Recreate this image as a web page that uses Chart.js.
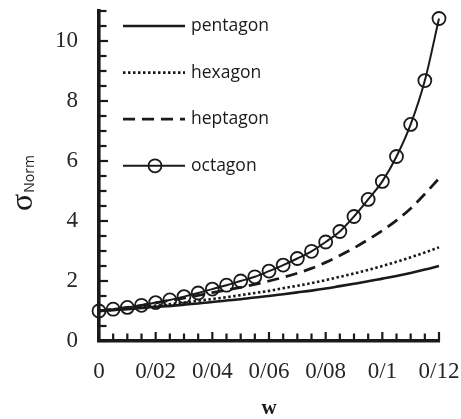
<!DOCTYPE html>
<html><head><meta charset="utf-8">
<script src="https://cdn.jsdelivr.net/npm/chart.js@4"></script>
<style>html,body{margin:0;padding:0;background:#fff}</style>
</head><body>
<canvas id="c" width="461" height="419"></canvas>
<script>
const wValues = [0,0.005,0.01,0.015,0.02,0.025,0.03,0.035,0.04,0.045,0.05,0.055,0.06,0.065,0.07,0.075,0.08,0.085,0.09,0.095,0.1,0.105,0.11,0.115,0.12];
const seriesNames = ['pentagon','hexagon','heptagon','octagon'];
const pentagon = [1.00,1.03,1.06,1.10,1.14,1.17,1.21,1.25,1.30,1.35,1.39,1.45,1.50,1.56,1.62,1.68,1.75,1.83,1.91,1.99,2.08,2.17,2.27,2.38,2.50];
const hexagon  = [1.00,1.04,1.08,1.13,1.18,1.23,1.28,1.34,1.40,1.46,1.53,1.60,1.67,1.76,1.84,1.93,2.03,2.14,2.25,2.37,2.50,2.64,2.79,2.95,3.12];
const heptagon = [1.00,1.06,1.12,1.19,1.27,1.35,1.43,1.52,1.61,1.70,1.79,1.89,2.00,2.12,2.26,2.42,2.62,2.85,3.10,3.38,3.68,4.02,4.42,4.90,5.42];
const octagon  = [1.00,1.06,1.12,1.19,1.28,1.37,1.48,1.60,1.73,1.86,2.00,2.14,2.33,2.53,2.75,2.99,3.30,3.65,4.15,4.72,5.32,6.15,7.22,8.68,10.75];
const xTickValues = [0,0.02,0.04,0.06,0.08,0.1,0.12];
const xTickLabels = ['0','0/02','0/04','0/06','0/08','0/1','0/12'];
const yTickValues = [0,2,4,6,8,10];
const yTickLabels = ['0','2','4','6','8','10'];
const xTitle = 'w';
const yTitleMain = 'σ';
const yTitleSub = 'Norm';

const INK = '#1a1a1a';
const toXY = arr => arr.map((v, i) => ({x: wValues[i], y: v}));

const styles = [
  {borderWidth: 2.6, borderDash: [], pointRadius: 0},
  {borderWidth: 2.6, borderDash: [2.5, 2.5], pointRadius: 0},
  {borderWidth: 2.8, borderDash: [12, 7], pointRadius: 0},
  {borderWidth: 2, borderDash: [], pointRadius: 6.5}
];
const seriesData = [pentagon, hexagon, heptagon, octagon];

const datasets = seriesData.map((d, i) => Object.assign({
  label: seriesNames[i],
  data: toXY(d),
  borderColor: INK,
  backgroundColor: 'rgba(0,0,0,0)',
  pointBorderColor: INK,
  pointBackgroundColor: 'rgba(0,0,0,0)',
  pointBorderWidth: 1.8,
  pointHoverRadius: 6.5,
  cubicInterpolationMode: 'monotone',
  fill: false,
  clip: false,
  order: 3 - i
}, styles[i]));

const minorTicks = {
  id: 'minorTicks',
  afterDraw(chart) {
    const {ctx, chartArea: ca, scales: {x, y}} = chart;
    ctx.save();
    ctx.strokeStyle = INK;
    ctx.lineWidth = 2.2;
    for (let i = 0; i <= 24; i++) {
      const px = x.getPixelForValue(i * 0.005);
      const len = i % 4 === 0 ? 9 : 7.5;
      ctx.beginPath(); ctx.moveTo(px, ca.bottom); ctx.lineTo(px, ca.bottom - len); ctx.stroke();
    }
    for (let i = 0; i <= 22; i++) {
      const py = y.getPixelForValue(i * 0.5);
      const len = i % 4 === 0 ? 9 : 7.5;
      ctx.beginPath(); ctx.moveTo(ca.left, py); ctx.lineTo(ca.left + len, py); ctx.stroke();
    }
    ctx.restore();
  }
};

const customLegend = {
  id: 'customLegend',
  afterDraw(chart) {
    const {ctx} = chart;
    const x0 = 123, x1 = 185, tx = 191, y0 = 26, dy = 46.6;
    ctx.save();
    chart.data.datasets.forEach((ds, i) => {
      const yy = y0 + i * dy;
      ctx.strokeStyle = INK;
      ctx.lineWidth = ds.borderWidth;
      ctx.setLineDash(ds.borderDash || []);
      ctx.beginPath(); ctx.moveTo(x0, yy); ctx.lineTo(x1, yy); ctx.stroke();
      ctx.setLineDash([]);
      if (ds.pointRadius > 0) {
        ctx.lineWidth = ds.pointBorderWidth;
        ctx.beginPath(); ctx.arc((x0 + x1) / 2 + 1, yy, ds.pointRadius, 0, Math.PI * 2); ctx.stroke();
      }
      ctx.fillStyle = INK;
      ctx.font = '17.5px "Open Sans", "Noto Sans", sans-serif';
      ctx.textAlign = 'left';
      ctx.textBaseline = 'middle';
      ctx.fillText(ds.label, tx, yy);
    });
    ctx.restore();
  }
};

const yTitlePlugin = {
  id: 'yTitle',
  afterDraw(chart) {
    const {ctx} = chart;
    ctx.save();
    ctx.translate(32, 211);
    ctx.rotate(-Math.PI / 2);
    ctx.fillStyle = INK;
    ctx.textAlign = 'left';
    ctx.textBaseline = 'alphabetic';
    ctx.font = '32px "Liberation Serif", serif';
    ctx.fillText(yTitleMain, 0, 0);
    const w = ctx.measureText(yTitleMain).width;
    ctx.font = '14px "Open Sans", "Noto Sans", sans-serif';
    ctx.fillText(yTitleSub, w + 1, 2);
    ctx.restore();
  }
};

new Chart(document.getElementById('c'), {
  type: 'line',
  data: {datasets},
  options: {
    responsive: false,
    animation: false,
    devicePixelRatio: 1,
    layout: {padding: {top: 11, left: 0, right: 22, bottom: 0}},
    plugins: {legend: {display: false}, tooltip: {enabled: false}},
    elements: {line: {borderCapStyle: 'butt'}},
    scales: {
      x: {
        type: 'linear', min: 0, max: 0.12,
        afterBuildTicks: s => { s.ticks = xTickValues.map(v => ({value: v})); },
        afterFit: s => { s.height = 419 - 341; s.paddingLeft = 0; s.paddingRight = 0; },
        grid: {display: false, drawTicks: false},
        border: {display: true, color: INK, width: 3.6},
        ticks: {
          padding: 17,
          color: '#262626',
          maxRotation: 0, autoSkip: false,
          font: {family: '"Liberation Serif", serif', size: 23},
          callback: (v, i) => xTickLabels[i]
        },
        title: {display: true, text: xTitle, color: INK,
          font: {family: '"Liberation Serif", serif', size: 21, weight: 'bold', lineHeight: 1},
          padding: {top: 0, bottom: 0}}
      },
      y: {
        type: 'linear', min: 0, max: 11,
        afterBuildTicks: s => { s.ticks = yTickValues.map(v => ({value: v})); },
        afterFit: s => { s.width = 99; s.paddingTop = 0; s.paddingBottom = 0; },
        grid: {display: false, drawTicks: false},
        border: {display: true, color: INK, width: 3.6},
        ticks: {
          padding: 21,
          color: '#262626',
          font: {family: '"Liberation Serif", serif', size: 23},
          callback: (v, i) => yTickLabels[i]
        }
      }
    }
  },
  plugins: [minorTicks, customLegend, yTitlePlugin]
});
</script>
</body></html>
